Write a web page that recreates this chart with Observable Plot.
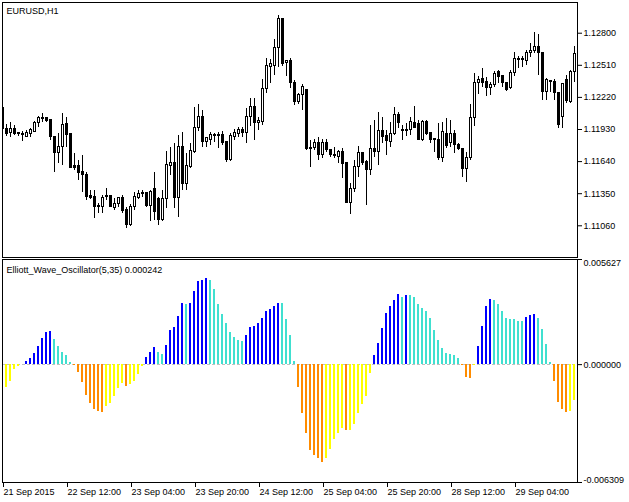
<!DOCTYPE html>
<html><head><meta charset="utf-8">
<script src="https://cdn.jsdelivr.net/npm/d3@7"></script>
<script src="https://cdn.jsdelivr.net/npm/@observablehq/plot@0.6"></script>
<style>
html,body{margin:0;padding:0;background:#fff;}
#chart{position:relative;width:629px;height:502px;overflow:hidden;background:#fff;}
#chart svg{position:absolute;left:0;}
</style></head><body><div id="chart"></div>
<script>
const symbolTitle = "EURUSD,H1";
const oscTitle = "Elliott_Wave_Oscillator(5,35) 0.000242";
const firstBar = -1;
// [open, high, low, close] per H1 bar, starting at bar -1 (partially hidden at left edge)
const candleOHLC = [
[1.12120,1.12129,1.11939,1.11939],
[1.11939,1.11976,1.11867,1.11885],[1.11894,1.11994,1.11858,1.11939],[1.11939,1.11967,1.11876,1.11885],[1.11894,1.11903,1.11867,1.11885],[1.11885,1.11912,1.11822,1.11876],
[1.11858,1.11921,1.11858,1.11894],[1.11885,1.11939,1.11858,1.11921],[1.11903,1.12003,1.11903,1.11985],[1.11985,1.12048,1.11948,1.12030],[1.12021,1.12075,1.11994,1.12030],
[1.12030,1.12039,1.11994,1.12003],[1.12012,1.12021,1.11831,1.11858],[1.11858,1.11867,1.11542,1.11714],[1.11714,1.11894,1.11624,1.11768],[1.11768,1.12075,1.11606,1.11967],
[1.11976,1.12039,1.11768,1.11876],[1.11885,1.11894,1.11578,1.11578],[1.11597,1.11714,1.11560,1.11578],[1.11597,1.11651,1.11470,1.11533],[1.11542,1.11696,1.11362,1.11515],
[1.11515,1.11542,1.11289,1.11316],[1.11325,1.11380,1.11298,1.11307],[1.11316,1.11380,1.11127,1.11226],[1.11235,1.11262,1.11172,1.11226],[1.11226,1.11334,1.11172,1.11307],
[1.11316,1.11398,1.11289,1.11325],[1.11325,1.11334,1.11226,1.11226],[1.11217,1.11307,1.11199,1.11253],[1.11253,1.11316,1.11226,1.11307],[1.11307,1.11334,1.11172,1.11190],
[1.11199,1.11226,1.11036,1.11064],[1.11064,1.11253,1.11055,1.11226],[1.11226,1.11362,1.11199,1.11316],[1.11307,1.11380,1.11298,1.11343],[1.11343,1.11380,1.11316,1.11352],
[1.11352,1.11362,1.11226,1.11235],[1.11235,1.11380,1.11100,1.11362],[1.11389,1.11542,1.11109,1.11181],[1.11298,1.11316,1.11064,1.11109],[1.11109,1.11380,1.11100,1.11298],
[1.11298,1.11732,1.11217,1.11606],[1.11597,1.11768,1.11515,1.11624],[1.11624,1.11804,1.11217,1.11307],[1.11307,1.11876,1.11136,1.11768],[1.11768,1.11903,1.11380,1.11434],
[1.11434,1.11714,1.11380,1.11597],[1.11588,1.11804,1.11578,1.11732],[1.11723,1.12129,1.11714,1.11948],[1.11948,1.12156,1.11912,1.12039],[1.12039,1.12102,1.11768,1.11813],
[1.11813,1.11858,1.11768,1.11849],[1.11831,1.11903,1.11786,1.11876],[1.11867,1.11894,1.11813,1.11876],[1.11876,1.11903,1.11759,1.11867],[1.11876,1.11912,1.11786,1.11804],
[1.11813,1.11822,1.11633,1.11651],[1.11651,1.11894,1.11642,1.11867],[1.11858,1.11930,1.11831,1.11894],[1.11885,1.11948,1.11858,1.11930],[1.11921,1.11948,1.11858,1.11894],
[1.11894,1.12120,1.11804,1.12039],[1.12039,1.12210,1.11957,1.12129],[1.12129,1.12210,1.11831,1.11985],[1.11985,1.12039,1.11921,1.12003],[1.11994,1.12382,1.11967,1.12292],
[1.12292,1.12572,1.12256,1.12508],[1.12499,1.12563,1.12346,1.12518],[1.12508,1.12743,1.12418,1.12662],[1.12662,1.12960,1.12490,1.12924],[1.12924,1.12933,1.12499,1.12518],
[1.12527,1.12554,1.12409,1.12545],[1.12545,1.12572,1.12301,1.12346],[1.12346,1.12373,1.12147,1.12174],[1.12174,1.12256,1.12156,1.12238],[1.12238,1.12337,1.12102,1.12310],
[1.12283,1.12292,1.11741,1.11750],[1.11759,1.11831,1.11588,1.11750],[1.11759,1.11840,1.11741,1.11804],[1.11804,1.11858,1.11651,1.11696],[1.11696,1.11840,1.11669,1.11804],
[1.11804,1.11840,1.11723,1.11741],[1.11741,1.11750,1.11678,1.11696],[1.11696,1.11768,1.11669,1.11687],[1.11678,1.11741,1.11624,1.11723],[1.11723,1.11759,1.11488,1.11615],
[1.11624,1.11633,1.11262,1.11262],[1.11262,1.11443,1.11163,1.11389],[1.11389,1.11651,1.11362,1.11588],[1.11588,1.11777,1.11497,1.11714],[1.11714,1.11723,1.11606,1.11624],
[1.11633,1.11651,1.11244,1.11560],[1.11560,1.11967,1.11515,1.11750],[1.11750,1.12012,1.11678,1.11723],[1.11723,1.12084,1.11606,1.11912],[1.11912,1.12039,1.11804,1.11858],
[1.11867,1.11921,1.11696,1.11822],[1.11813,1.11994,1.11768,1.11885],[1.11885,1.12129,1.11876,1.12057],[1.12057,1.12084,1.11939,1.11985],[1.11921,1.11967,1.11831,1.11912],
[1.11912,1.11985,1.11867,1.11921],[1.11921,1.12039,1.11876,1.11994],[1.11985,1.12138,1.11939,1.11948],[1.11976,1.12012,1.11831,1.11831],[1.11831,1.12012,1.11822,1.11994],
[1.11994,1.12012,1.11876,1.11885],[1.11894,1.11903,1.11804,1.11831],[1.11840,1.11849,1.11723,1.11831],[1.11831,1.11985,1.11651,1.11669],[1.11669,1.11994,1.11633,1.11903],
[1.11885,1.12030,1.11759,1.11777],[1.11804,1.12012,1.11768,1.11885],[1.11885,1.11921,1.11714,1.11786],[1.11786,1.11804,1.11741,1.11750],[1.11750,1.11759,1.11497,1.11569],
[1.11569,1.11723,1.11452,1.11669],[1.11669,1.12156,1.11651,1.12030],[1.12030,1.12436,1.11957,1.12346],[1.12346,1.12409,1.12247,1.12373],[1.12382,1.12481,1.12310,1.12346],
[1.12355,1.12400,1.12229,1.12301],[1.12301,1.12355,1.12238,1.12328],[1.12328,1.12454,1.12310,1.12427],[1.12445,1.12463,1.12346,1.12400],[1.12409,1.12418,1.12310,1.12346],
[1.12346,1.12355,1.12274,1.12283],[1.12301,1.12463,1.12292,1.12436],[1.12436,1.12626,1.12409,1.12563],[1.12554,1.12590,1.12481,1.12563],[1.12563,1.12590,1.12490,1.12554],
[1.12545,1.12644,1.12508,1.12617],[1.12617,1.12707,1.12581,1.12635],[1.12635,1.12806,1.12617,1.12671],[1.12671,1.12788,1.12418,1.12617],[1.12617,1.12626,1.12192,1.12265],
[1.12265,1.12391,1.12192,1.12373],[1.12364,1.12373,1.12265,1.12355],[1.12355,1.12382,1.12192,1.12256],[1.12256,1.12265,1.11939,1.11967],[1.12039,1.12346,1.11939,1.12337],
[1.12373,1.12418,1.12165,1.12192],[1.12174,1.12463,1.12165,1.12454],[1.12445,1.12680,1.12355,1.12608]
];
// Elliott Wave Oscillator values, bar 0 .. 142
const ewo = [
-0.00120,-0.00090,-0.00025,-0.00012,-0.00001,0.00016,0.00032,0.00059,0.00097,0.00141,
0.00172,0.00177,0.00134,0.00098,0.00066,0.00050,0.00012,-0.00003,-0.00041,-0.00095,
-0.00165,-0.00208,-0.00240,-0.00251,-0.00256,-0.00224,-0.00208,-0.00170,-0.00127,-0.00102,
-0.00117,-0.00108,-0.00090,-0.00054,-0.00009,0.00038,0.00065,0.00091,0.00065,0.00054,
0.00102,0.00183,0.00199,0.00258,0.00328,0.00323,0.00329,0.00392,0.00446,0.00451,
0.00462,0.00451,0.00403,0.00323,0.00269,0.00220,0.00172,0.00145,0.00129,0.00124,
0.00156,0.00199,0.00204,0.00220,0.00247,0.00285,0.00296,0.00312,0.00328,0.00326,
0.00242,0.00156,0.00016,-0.00122,-0.00260,-0.00367,-0.00457,-0.00484,-0.00504,-0.00525,
-0.00505,-0.00452,-0.00403,-0.00369,-0.00344,-0.00353,-0.00350,-0.00319,-0.00260,-0.00213,
-0.00170,-0.00047,0.00048,0.00113,0.00194,0.00274,0.00312,0.00344,0.00376,0.00360,
0.00371,0.00369,0.00360,0.00323,0.00301,0.00285,0.00247,0.00183,0.00129,0.00086,
0.00059,0.00054,0.00048,0.00032,-0.00003,-0.00068,-0.00074,-0.00002,0.00097,0.00206,
0.00312,0.00349,0.00344,0.00323,0.00285,0.00247,0.00242,0.00240,0.00231,0.00230,
0.00253,0.00263,0.00269,0.00247,0.00188,0.00108,0.00010,-0.00090,-0.00203,-0.00238,
-0.00256,-0.00251,-0.00192
];
const priceTicks = [1.12800, 1.12510, 1.12220, 1.11930, 1.11640, 1.11350, 1.11060];
const ewoTicks = [0.005627, 0, -0.006309];
const dateTickBars = [-1, 15, 31, 47, 63, 79, 95, 111, 127];
const dateTickLabels = ["21 Sep 2015","22 Sep 12:00","23 Sep 04:00","23 Sep 20:00","24 Sep 12:00","25 Sep 04:00","25 Sep 20:00","28 Sep 12:00","29 Sep 04:00"];
const priceDomain = [1.107736, 1.130774];
const ewoDomain = [-0.006309, 0.005627];
const barDomain = [-1, 142.75];

const candles = candleOHLC.map(([o, h, l, c], i) => ({bar: firstBar + i, o, h, l, c, up: c >= o}));
const bars = ewo.map((v, i) => {
  const rising = i === 0 ? true : v >= ewo[i - 1];
  return {bar: i, v, color: v >= 0 ? (rising ? "#0000ff" : "#40e0d0") : (rising ? "#ffff00" : "#ff8c00")};
});
const dateLabel = new Map(dateTickBars.map((b, i) => [b, dateTickLabels[i]]));
const font = "'Liberation Sans', Arial, sans-serif";
const style = {fontFamily: font, fontSize: "9px", background: "transparent", color: "black", overflow: "visible"};
const crisp = "crispEdges";

const topPlot = Plot.plot({
  width: 629, height: 258,
  marginLeft: 2, marginRight: 52, marginTop: 2, marginBottom: 1,
  x: {domain: barDomain, axis: null, label: null},
  y: {domain: priceDomain, axis: null, label: null},
  color: {type: "identity"},
  style,
  marks: [
    Plot.ruleX(candles, {x: "bar", y1: "l", y2: "h", stroke: "black", clip: true, shapeRendering: crisp}),
    Plot.rect(candles, {x1: d => d.bar - 0.25, x2: d => d.bar + 0.25, y1: "o", y2: "c",
      fill: d => d.up ? "white" : "black", stroke: "black", clip: true, shapeRendering: crisp}),
    Plot.frame({stroke: "black", shapeRendering: crisp}),
    Plot.axisY(priceTicks, {anchor: "right", tickSize: 4, tickPadding: 2, tickFormat: d => d.toFixed(5), label: null}),
    Plot.text([symbolTitle], {text: d => d, frameAnchor: "top-left", dx: 4, dy: 5, textAnchor: "start", lineAnchor: "top", fill: "black"})
  ]
});

const botPlot = Plot.plot({
  width: 629, height: 244,
  marginLeft: 2, marginRight: 52, marginTop: 1, marginBottom: 20,
  x: {domain: barDomain, axis: null, label: null},
  y: {domain: ewoDomain, axis: null, label: null},
  color: {type: "identity"},
  style,
  marks: [
    Plot.ruleY([0], {stroke: "#c0c0c0", strokeDasharray: "3,2", shapeRendering: crisp}),
    Plot.ruleX(bars, {x: "bar", y1: 0, y2: "v", stroke: "color", strokeWidth: 2, dx: -0.5, shapeRendering: crisp}),
    Plot.frame({stroke: "black", shapeRendering: crisp}),
    Plot.axisY(ewoTicks, {anchor: "right", tickSize: 4, tickFormat: () => "", label: null}),
    Plot.text([ewoTicks[0]], {y: d => d, text: d => d.toFixed(6), frameAnchor: "right", dx: 6, textAnchor: "start", lineAnchor: "top", fill: "black"}),
    Plot.text([ewoTicks[1]], {y: d => d, text: d => d.toFixed(6), frameAnchor: "right", dx: 6, textAnchor: "start", lineAnchor: "middle", fill: "black"}),
    Plot.text([ewoTicks[2]], {y: d => d, text: d => d.toFixed(6), frameAnchor: "right", dx: 6, textAnchor: "start", lineAnchor: "bottom", fill: "black"}),
    Plot.axisX(dateTickBars, {anchor: "bottom", tickSize: 5, tickPadding: 1, textAnchor: "start", dx: 1, tickFormat: d => dateLabel.get(d), label: null}),
    Plot.text([oscTitle], {text: d => d, frameAnchor: "top-left", dx: 4, dy: 7, textAnchor: "start", lineAnchor: "top", fill: "black"})
  ]
});

topPlot.style.top = "0px";
botPlot.style.top = "258px";
const chart = document.getElementById("chart");
chart.appendChild(topPlot);
chart.appendChild(botPlot);
</script></body></html>
